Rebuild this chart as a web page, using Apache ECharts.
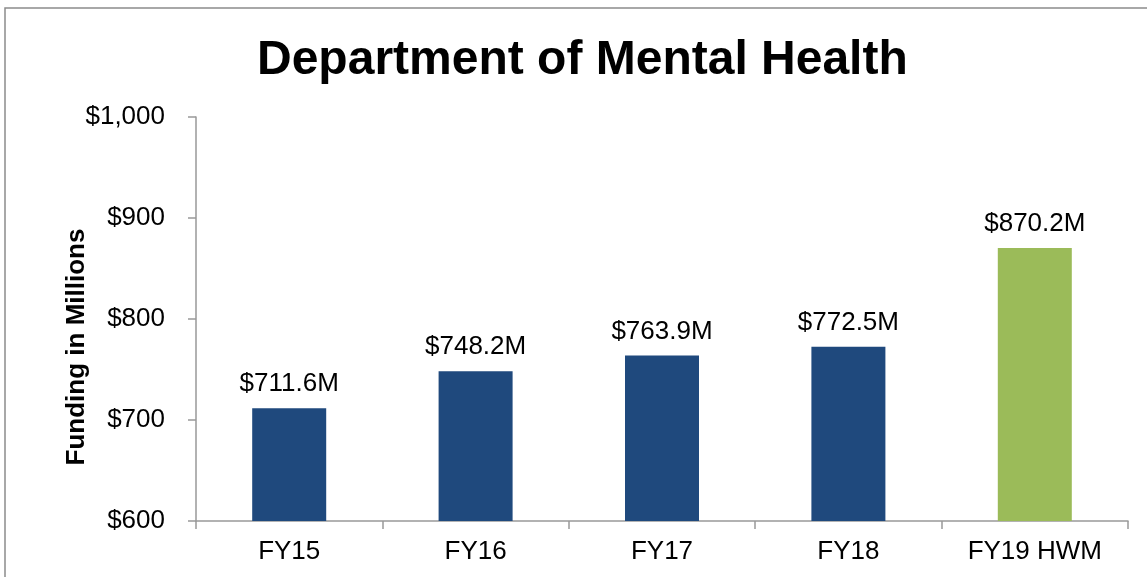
<!DOCTYPE html>
<html>
<head>
<meta charset="utf-8">
<title>Department of Mental Health</title>
<script src="https://cdn.jsdelivr.net/npm/echarts@6/dist/echarts.min.js"></script>
<style>
  html, body { margin: 0; padding: 0; background: #fff; }
  #chart { width: 1147px; height: 577px; }
</style>
</head>
<body>
<div id="chart"></div>
<script>
// data
const categories = ["FY15", "FY16", "FY17", "FY18", "FY19 HWM"];
const funding = [711.6, 748.2, 763.9, 772.5, 870.2];
const barColors = ["#1F497D", "#1F497D", "#1F497D", "#1F497D", "#9BBB59"];
const yTicks = [600, 700, 800, 900, 1000];

const fontFamily = "Arial, 'Liberation Sans', sans-serif";

const chart = echarts.init(document.getElementById("chart"));

const option = {
  animation: false,
  backgroundColor: "#fff",
  textStyle: { fontFamily: fontFamily },
  title: {
    text: "Department of Mental Health",
    left: 252,
    top: 32,
    textStyle: { fontSize: 48, fontWeight: "bold", color: "#000", fontFamily: fontFamily }
  },
  graphic: [
    {
      // outer chart frame (only top/left edges fall inside the picture)
      type: "rect",
      shape: { x: 5, y: 8, width: 1400, height: 800 },
      style: { fill: "none", stroke: "#8c8c8c", lineWidth: 1.5 },
      silent: true
    },
    {
      type: "text",
      x: 77,
      y: 347,
      rotation: Math.PI / 2,
      style: {
        text: "Funding in Millions",
        font: "bold 26px " + fontFamily,
        fill: "#000",
        align: "center",
        verticalAlign: "middle"
      }
    }
  ],
  grid: { left: 196, right: 19, top: 117, bottom: 56 },
  xAxis: {
    type: "category",
    data: categories,
    axisLine: { lineStyle: { color: "#999", width: 1.5 } },
    axisTick: { show: true, length: 8, lineStyle: { color: "#999", width: 1.5 } },
    axisLabel: { color: "#000", fontSize: 26, margin: 18 }
  },
  yAxis: {
    type: "value",
    min: yTicks[0],
    max: yTicks[yTicks.length - 1],
    interval: 100,
    splitLine: { show: false },
    axisLine: { show: true, lineStyle: { color: "#999", width: 1.5 } },
    axisTick: { show: true, length: 8, lineStyle: { color: "#999", width: 1.5 } },
    axisLabel: {
      color: "#000",
      fontSize: 26,
      margin: 31,
      formatter: v => "$" + v.toLocaleString("en-US")
    }
  },
  series: [
    {
      type: "bar",
      barWidth: 74,
      data: funding.map((v, i) => ({ value: v, itemStyle: { color: barColors[i] } })),
      label: {
        show: true,
        position: "top",
        distance: 11,
        color: "#000",
        fontSize: 26,
        formatter: p => "$" + p.value.toFixed(1) + "M"
      }
    }
  ]
};

option && chart.setOption(option);
</script>
</body>
</html>
